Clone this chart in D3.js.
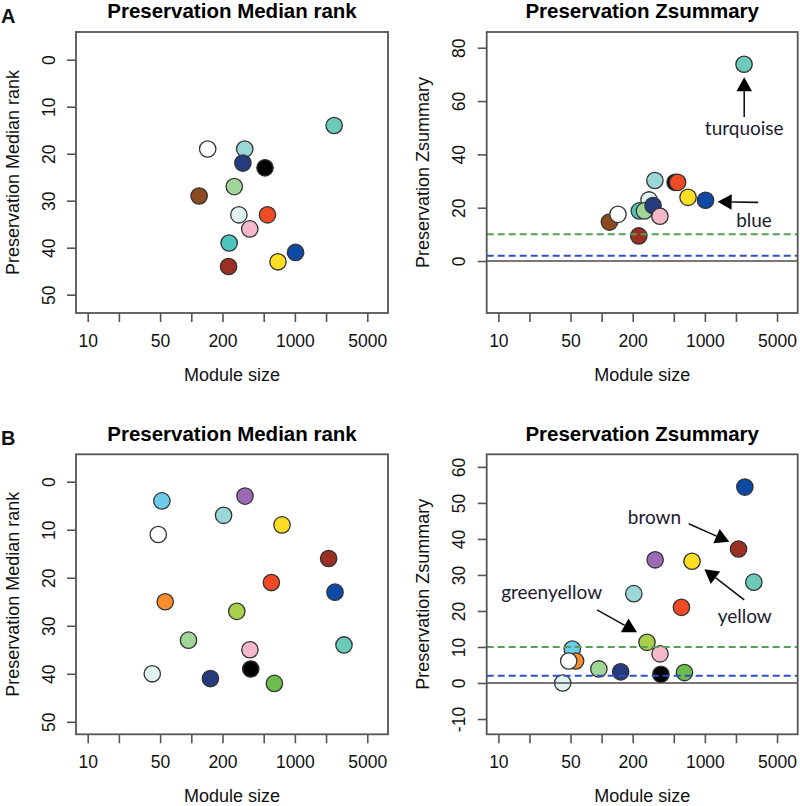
<!DOCTYPE html>
<html>
<head>
<meta charset="utf-8">
<script src="https://cdn.jsdelivr.net/npm/d3@7"></script>
<style>
  body { margin: 0; background: #fff; }
  svg { display: block; font-family: "Liberation Sans", Arial, Helvetica, sans-serif; }
</style>
</head>
<body>
<svg id="chart" width="800" height="806"></svg>
<script>
// ---- data: set A (modules drawn in this order) ----
var modA   = ["lightcyan","cyan","lightgreen","paleturquoise","midnightblue","pink","saddlebrown","white","black","red","yellow","blue","brown","turquoise"];
var sizeA  = [288, 232, 260, 328, 315, 367, 119, 144, 515, 544, 687, 1015, 229, 2395];
var rankA  = [33, 39, 27, 19, 22, 36, 29, 19, 23, 33, 43, 41, 44, 14];
var zsumA  = [22.9, 18.8, 18.8, 30.2, 20.8, 16.8, 14.6, 17.5, 29.5, 29.5, 23.9, 22.8, 9.4, 73.8];

// ---- data: set B ----
var modB   = ["lightcyan","skyblue","orange","white","lightgreen","midnightblue","paleturquoise","greenyellow","purple","pink","black","red","green","yellow","brown","blue","turquoise"];
var sizeB  = [42, 52, 56, 48, 94, 153, 205, 275, 330, 368, 375, 593, 634, 751, 2118, 2440, 2980];
var rankB  = [40, 4, 25, 11, 33, 41, 7, 27, 3, 35, 39, 21, 42, 9, 16, 23, 34];
var zsumB  = [0, 9.4, 6.1, 6.1, 3.9, 3.1, 24.8, 11.3, 34.2, 8.1, 2.4, 21, 2.9, 33.8, 37.2, 54.4, 28];

// tick values
var xTicks      = [10, 20, 50, 100, 200, 500, 1000, 2000, 5000];
var xLabels     = [10, 50, 200, 1000, 5000];
var rankTicks   = [0, 10, 20, 30, 40, 50];
var zTicksA     = [0, 20, 40, 60, 80];
var zTicksB     = [-10, 0, 10, 20, 30, 40, 50, 60];
var thresholds  = [0, 2, 10];

// module colours as they appear in the figure
var colour = d3.scaleOrdinal()
  .domain(["lightcyan","cyan","lightgreen","paleturquoise","midnightblue","pink","saddlebrown","white","black","red","yellow","blue","brown","turquoise","skyblue","orange","greenyellow","purple","green"])
  .range(["#e0f3f1","#4cc4c0","#a2d699","#9ad8d8","#263a7e","#f5b8ca","#8c4a1f","#ffffff","#000000","#ef4a24","#fede22","#0c4aa6","#9c2f23","#6ccabb","#6ccbea","#f98c2c","#a9d04c","#9b69b5","#6cbe4c"]);

var annA = [
  {text: "turquoise", tx: 2405, ty: 47.3, from: [2405, 54], to: [2405, 68.9]},
  {text: "blue",      tx: 2993, ty: 12.9, from: [3283, 22], to: [1330, 22.2]}
];
var annB = [
  {text: "brown",       tx: 325,  ty: 44.2,  from: [698, 44.2],  to: [1723, 39.2]},
  {text: "yellow",      tx: 2432, ty: 16.75, from: [2405, 23.1], to: [989, 31.6]},
  {text: "greenyellow", tx: 32.8, ty: 23.25, from: [90.3, 20.3], to: [219.8, 14.1]}
];

var svg = d3.select("#chart");

var panels = [
  {tag: "A", title: "Preservation Median rank", ylab: "Preservation Median rank", x0: 76,    x1: 388,   y0: 32,    y1: 313,
   yDom: [-5.9, 53.9], yRev: true, yTicks: rankTicks, mods: modA, size: sizeA, val: rankA},
  {tag: "",  title: "Preservation Zsummary",    ylab: "Preservation Zsummary",    x0: 486.7, x1: 797.7, y0: 32,    y1: 313,
   yDom: [-19.5, 85.9], yRev: false, yTicks: zTicksA, mods: modA, size: sizeA, val: zsumA, ann: annA},
  {tag: "B", title: "Preservation Median rank", ylab: "Preservation Median rank", x0: 76,    x1: 388,   y0: 454.3, y1: 734.3,
   yDom: [-5.7, 52.6], yRev: true, yTicks: rankTicks, mods: modB, size: sizeB, val: rankB},
  {tag: "",  title: "Preservation Zsummary",    ylab: "Preservation Zsummary",    x0: 486.7, x1: 797.7, y0: 454.3, y1: 734.3,
   yDom: [-14.25, 63.5], yRev: false, yTicks: zTicksB, mods: modB, size: sizeB, val: zsumB, ann: annB}
];

panels.forEach(function(p) {
  var w = p.x1 - p.x0, h = p.y1 - p.y0;
  var g = svg.append("g").attr("transform", "translate(" + p.x0 + "," + p.y0 + ")");

  var x = d3.scaleLog().domain([7.71, 7925]).range([0, w]);
  var y = d3.scaleLinear().domain(p.yDom).range(p.yRev ? [0, h] : [h, 0]);

  // points
  var pts = p.mods.map(function(m, i) { return {m: m, s: p.size[i], v: p.val[i]}; });
  g.selectAll("circle.pt").data(pts).enter().append("circle")
    .attr("class", "pt")
    .attr("cx", function(d) { return x(d.s); })
    .attr("cy", function(d) { return y(d.v); })
    .attr("r", 8.2)
    .attr("fill", function(d) { return colour(d.m); })
    .attr("stroke", "#333")
    .attr("stroke-width", 1.3);

  // threshold lines (zsummary only), drawn over points like abline
  if (!p.yRev) {
    var lineCol = {0: "#4a4a4a", 2: "#2f4fc4", 10: "#56a056"};
    thresholds.forEach(function(t) {
      g.append("line")
        .attr("x1", 0).attr("x2", w)
        .attr("y1", y(t)).attr("y2", y(t))
        .attr("stroke", lineCol[t])
        .attr("stroke-width", t === 0 ? 1.5 : 2)
        .attr("stroke-dasharray", t === 0 ? null : "7,4");
    });
  }

  // box
  g.append("rect").attr("width", w).attr("height", h)
    .attr("fill", "none").attr("stroke", "#555").attr("stroke-width", 1.8);

  // x axis
  var xa = g.append("g").attr("transform", "translate(0," + h + ")")
    .call(d3.axisBottom(x).tickValues(xTicks).tickSize(9).tickSizeOuter(0)
      .tickFormat(function(d) { return xLabels.indexOf(d) >= 0 ? String(d) : ""; }));
  xa.select(".domain").remove();
  xa.selectAll(".tick line").attr("stroke", "#555").attr("stroke-width", 1.6);
  xa.selectAll("text").attr("y", 33.7).attr("dy", 0)
    .attr("font-size", 17.5).attr("fill", "#111").attr("font-family", null);

  // y axis
  var ya = g.append("g")
    .call(d3.axisLeft(y).tickValues(p.yTicks).tickSize(9).tickSizeOuter(0)
      .tickFormat(function(d) { return String(d); }));
  ya.select(".domain").remove();
  ya.selectAll(".tick line").attr("stroke", "#555").attr("stroke-width", 1.6);
  ya.selectAll("text").attr("x", 0).attr("dy", 0)
    .attr("transform", "translate(-21.5,0) rotate(-90)")
    .attr("text-anchor", "middle")
    .attr("font-size", 17.5).attr("fill", "#111").attr("font-family", null);

  // titles / labels
  g.append("text").attr("x", w / 2).attr("y", -13.7)
    .attr("text-anchor", "middle").attr("font-weight", "bold").attr("font-size", 20.5)
    .attr("fill", "#000").text(p.title);
  g.append("text").attr("x", w / 2).attr("y", h + 68)
    .attr("text-anchor", "middle").attr("font-size", 18).attr("fill", "#111").text("Module size");
  g.append("text")
    .attr("transform", "translate(-57.5," + (h / 2) + ") rotate(-90)")
    .attr("text-anchor", "middle").attr("font-size", 18).attr("fill", "#111").text(p.ylab);

  if (p.tag) {
    svg.append("text").attr("x", 1).attr("y", p.y0 - 9.5)
      .attr("font-weight", "bold").attr("font-size", 20).attr("fill", "#111").text(p.tag);
  }

  // annotations
  (p.ann || []).forEach(function(a) {
    var sx = x(a.from[0]), sy = y(a.from[1]);
    var tx = x(a.to[0]),   ty = y(a.to[1]);
    var dx = tx - sx, dy = ty - sy, len = Math.sqrt(dx * dx + dy * dy);
    var ux = dx / len, uy = dy / len, L = 14, hw = 7.8;
    var bx = tx - ux * L, by = ty - uy * L;
    g.append("line").attr("x1", sx).attr("y1", sy).attr("x2", bx).attr("y2", by)
      .attr("stroke", "#111").attr("stroke-width", 1.6);
    g.append("path")
      .attr("d", "M" + tx + "," + ty + "L" + (bx - uy * hw) + "," + (by + ux * hw) + "L" + (bx + uy * hw) + "," + (by - ux * hw) + "Z")
      .attr("fill", "#000");
    g.append("text").attr("x", x(a.tx)).attr("y", y(a.ty))
      .attr("text-anchor", "middle")
      .attr("font-family", "Lato, 'Open Sans', sans-serif")
      .attr("font-size", 19).attr("fill", "#1c1c30").text(a.text);
  });
});
</script>
</body>
</html>
